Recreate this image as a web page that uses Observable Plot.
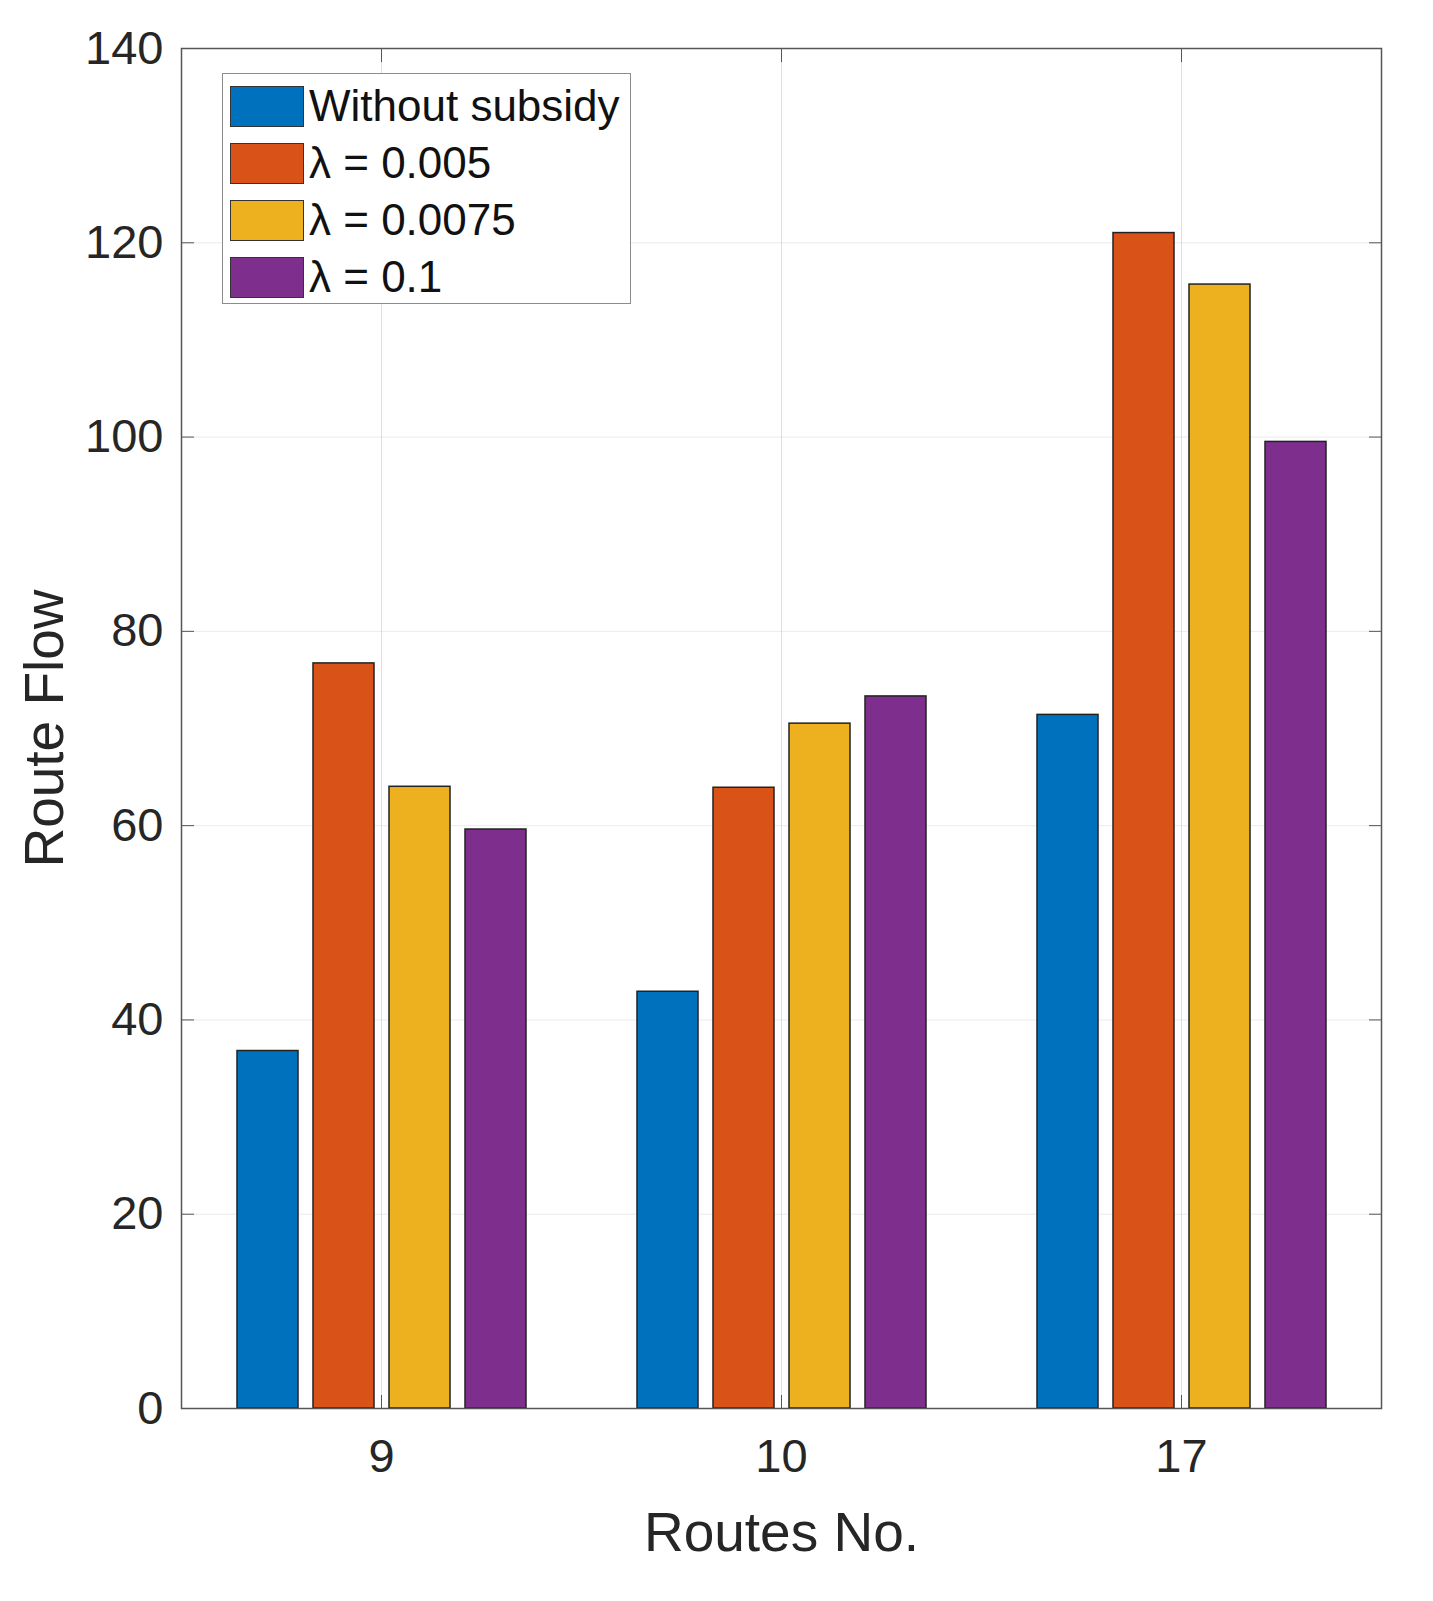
<!DOCTYPE html>
<html>
<head>
<meta charset="utf-8">
<script src="https://cdn.jsdelivr.net/npm/d3@7"></script>
<script src="https://cdn.jsdelivr.net/npm/@observablehq/plot@0.6"></script>
<style>
  body { margin: 0; background: white; }
  #wrap { position: relative; width: 1433px; }
  #legend {
    position: absolute; left: 222px; top: 73px; width: 409px; height: 231px;
    border: 1.5px solid #8c8c8c; background: white; box-sizing: border-box;
    font-family: "Liberation Sans", Arial, sans-serif; font-size: 44px; color: #111;
  }
  .row { position: absolute; left: 7px; height: 42px; display: flex; align-items: center; }
  .sw { width: 72px; height: 39px; border: 1.5px solid #333; margin-right: 5px; }
  g[aria-label="y-axis label"] text, g[aria-label="fx-axis label"] text { font-size: 55px; }
</style>
</head>
<body>
<div id="wrap">
  <div id="chart"></div>
  <div id="legend"></div>
</div>
<script>
// rutas y series
const routes = ["9", "10", "17"];
const series = ["Without subsidy", "λ = 0.005", "λ = 0.0075", "λ = 0.1"];
const colors = ["#0072BD", "#D95319", "#EDB120", "#7E2F8E"];

// valores
const withoutSubsidy = [36.8, 42.9, 71.4];
const lambda005 = [76.7, 63.9, 121.0];
const lambda0075 = [64.0, 70.5, 115.7];
const lambda01 = [59.6, 73.3, 99.5];

const yTicks = [0, 20, 40, 60, 80, 100, 120, 140];

const values = [withoutSubsidy, lambda005, lambda0075, lambda01];
const table = routes.flatMap((r, i) => series.map((s, j) => ({route: r, series: s, value: values[j][i]})));

let chart = Plot.plot({
  width: 1433,
  height: 1601,
  marginLeft: 180,
  marginRight: 51,
  marginTop: 48,
  marginBottom: 193,
  style: {fontFamily: "Liberation Sans, Arial, sans-serif", fontSize: "47px", color: "#262626", background: "white"},
  fx: {domain: routes, padding: 0},
  x: {domain: series, padding: 0.2, paddingOuter: 0.7, axis: null},
  y: {domain: [0, 140]},
  color: {domain: series, range: colors},
  marks: [
    Plot.gridY(yTicks, {strokeOpacity: 0.09}),
    Plot.gridFx(routes, {strokeOpacity: 0.05}),
    Plot.barY(table, {fx: "route", x: "series", y: "value", fill: "series", stroke: "#222", strokeWidth: 1.5}),
    Plot.frame({facet: "super", stroke: "#555", strokeWidth: 1.5}),
    // ticks hacia adentro como en matlab
    Plot.axisY({anchor: "left", ticks: yTicks, tickSize: -13, tickPadding: 31, label: "Route Flow", labelAnchor: "center", labelArrow: "none", labelOffset: 158, stroke: "#555"}),
    Plot.axisY({anchor: "right", ticks: yTicks, tickSize: -13, fill: "none", label: null, stroke: "#555"}),
    Plot.axisFx({anchor: "bottom", tickSize: -13, tickPadding: 43, label: "Routes No.", labelAnchor: "center", labelArrow: "none", labelOffset: 142, stroke: "#555"}),
    Plot.axisFx({anchor: "top", tickSize: -13, fill: "none", label: null, stroke: "#555"})
  ]
});

d3.select('#chart').append(() => chart);

// leyenda dentro del area del grafico
const rows = d3.select('#legend').selectAll('div').data(series).join('div')
  .attr('class', 'row')
  .style('top', (d, i) => (11 + i * 57) + 'px');
rows.append('div').attr('class', 'sw').style('background', (d, i) => colors[i]);
rows.append('span').text(d => d);
</script>
</body>
</html>
